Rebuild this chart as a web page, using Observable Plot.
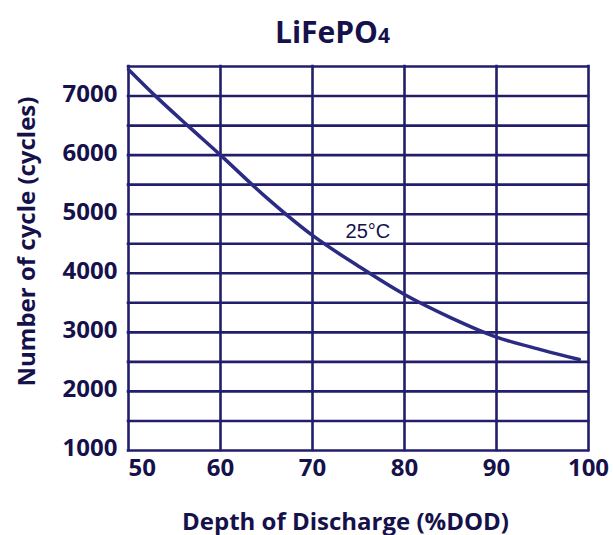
<!DOCTYPE html>
<html><head><meta charset="utf-8">
<script src="https://cdn.jsdelivr.net/npm/d3@7"></script>
<script src="https://cdn.jsdelivr.net/npm/@observablehq/plot@0.6"></script>
<style>body{margin:0;background:#fff}</style>
</head><body><div id="chart"></div>
<script>
// ---- data ----
const titleMain = "LiFePO";
const titleSub = "4";
const xLabel = "Depth of Discharge (%DOD)";
const yLabel = "Number of cycle (cycles)";
const seriesLabel = "25°C";
const seriesLabelDod = 73.6;
const seriesLabelCycles = 4605;

const dod    = [50,   53,   56.5, 60,   65,   70,   75,   80,   85,   90,   95,   99];
const cycles = [7450, 6990, 6490, 6000, 5280, 4640, 4120, 3640, 3250, 2920, 2700, 2540];

const xTicks = [50, 60, 70, 80, 90, 100];
const yTicks = [1000, 2000, 3000, 4000, 5000, 6000, 7000];
const xGrid = [50, 60, 70, 80, 90, 100];
const yGrid = [1000, 1500, 2000, 2500, 3000, 3500, 4000, 4500, 5000, 5500, 6000, 6500, 7000, 7500];

// ---- build ----
const points = dod.map((d, i) => ({dod: d, cycles: cycles[i]}));
const gridColor = "#221e6c";
const curveColor = "#2c2b84";
const textColor = "#15114a";
const tickFont = 24;

const chart = Plot.plot({
  width: 613,
  height: 535,
  marginLeft: 128,
  marginRight: 25,
  marginTop: 66,
  marginBottom: 85,
  x: {domain: [50, 100], axis: null},
  y: {domain: [1000, 7500], axis: null},
  style: {fontFamily: "'Open Sans', sans-serif", background: "#fff", overflow: "visible"},
  marks: [
    Plot.ruleX(xGrid, {stroke: gridColor, strokeWidth: 2.6, strokeLinecap: "square"}),
    Plot.ruleY(yGrid, {stroke: gridColor, strokeWidth: 2.6, strokeLinecap: "square"}),
    Plot.line(points, {x: "dod", y: "cycles", curve: "catmull-rom", stroke: curveColor, strokeWidth: 3.5}),
    // y tick labels
    Plot.text(yTicks, {y: d => d, frameAnchor: "left", textAnchor: "end", lineAnchor: "middle", dx: -11, dy: -2,
      text: d => String(d), fontSize: tickFont, fontWeight: 700, fill: textColor}),
    // x tick labels (first left-aligned, rest centered)
    Plot.text(xTicks.slice(0, 1), {x: d => d, frameAnchor: "bottom", textAnchor: "start", lineAnchor: "bottom", dy: 25,
      text: d => String(d), fontSize: tickFont, fontWeight: 700, fill: textColor}),
    Plot.text(xTicks.slice(1), {x: d => d, frameAnchor: "bottom", textAnchor: "middle", lineAnchor: "bottom", dy: 25,
      text: d => String(d), fontSize: tickFont, fontWeight: 700, fill: textColor}),
    // series label
    Plot.text([seriesLabel], {x: () => seriesLabelDod, y: () => seriesLabelCycles, text: d => d, textAnchor: "start",
      lineAnchor: "bottom", fontSize: 20, fontFamily: "'Liberation Sans', Arial, sans-serif", fill: textColor}),
    // axis titles
    Plot.text([xLabel], {frameAnchor: "bottom", text: d => d, textAnchor: "middle", lineAnchor: "bottom", dx: -13, dy: 79,
      fontSize: 24, fontWeight: 700, fill: textColor}),
    Plot.text([yLabel], {frameAnchor: "left", text: d => d, rotate: -90, textAnchor: "middle", lineAnchor: "middle", dx: -101, dy: -17,
      fontSize: 24, fontWeight: 700, fill: textColor}),
    // title
    Plot.text([titleMain + titleSub], {frameAnchor: "top", text: d => d, textAnchor: "middle", lineAnchor: "bottom", dx: -26, dy: -24,
      fontSize: 30, fontWeight: 700, fill: textColor})
  ]
});

// render the title's "4" smaller
d3.select(chart).selectAll("text").each(function() {
  if (this.textContent === titleMain + titleSub) {
    const t = d3.select(this);
    t.text(titleMain);
    t.append("tspan").attr("font-size", 21).text(titleSub);
  }
});

document.getElementById("chart").appendChild(chart);
</script>
</body></html>
